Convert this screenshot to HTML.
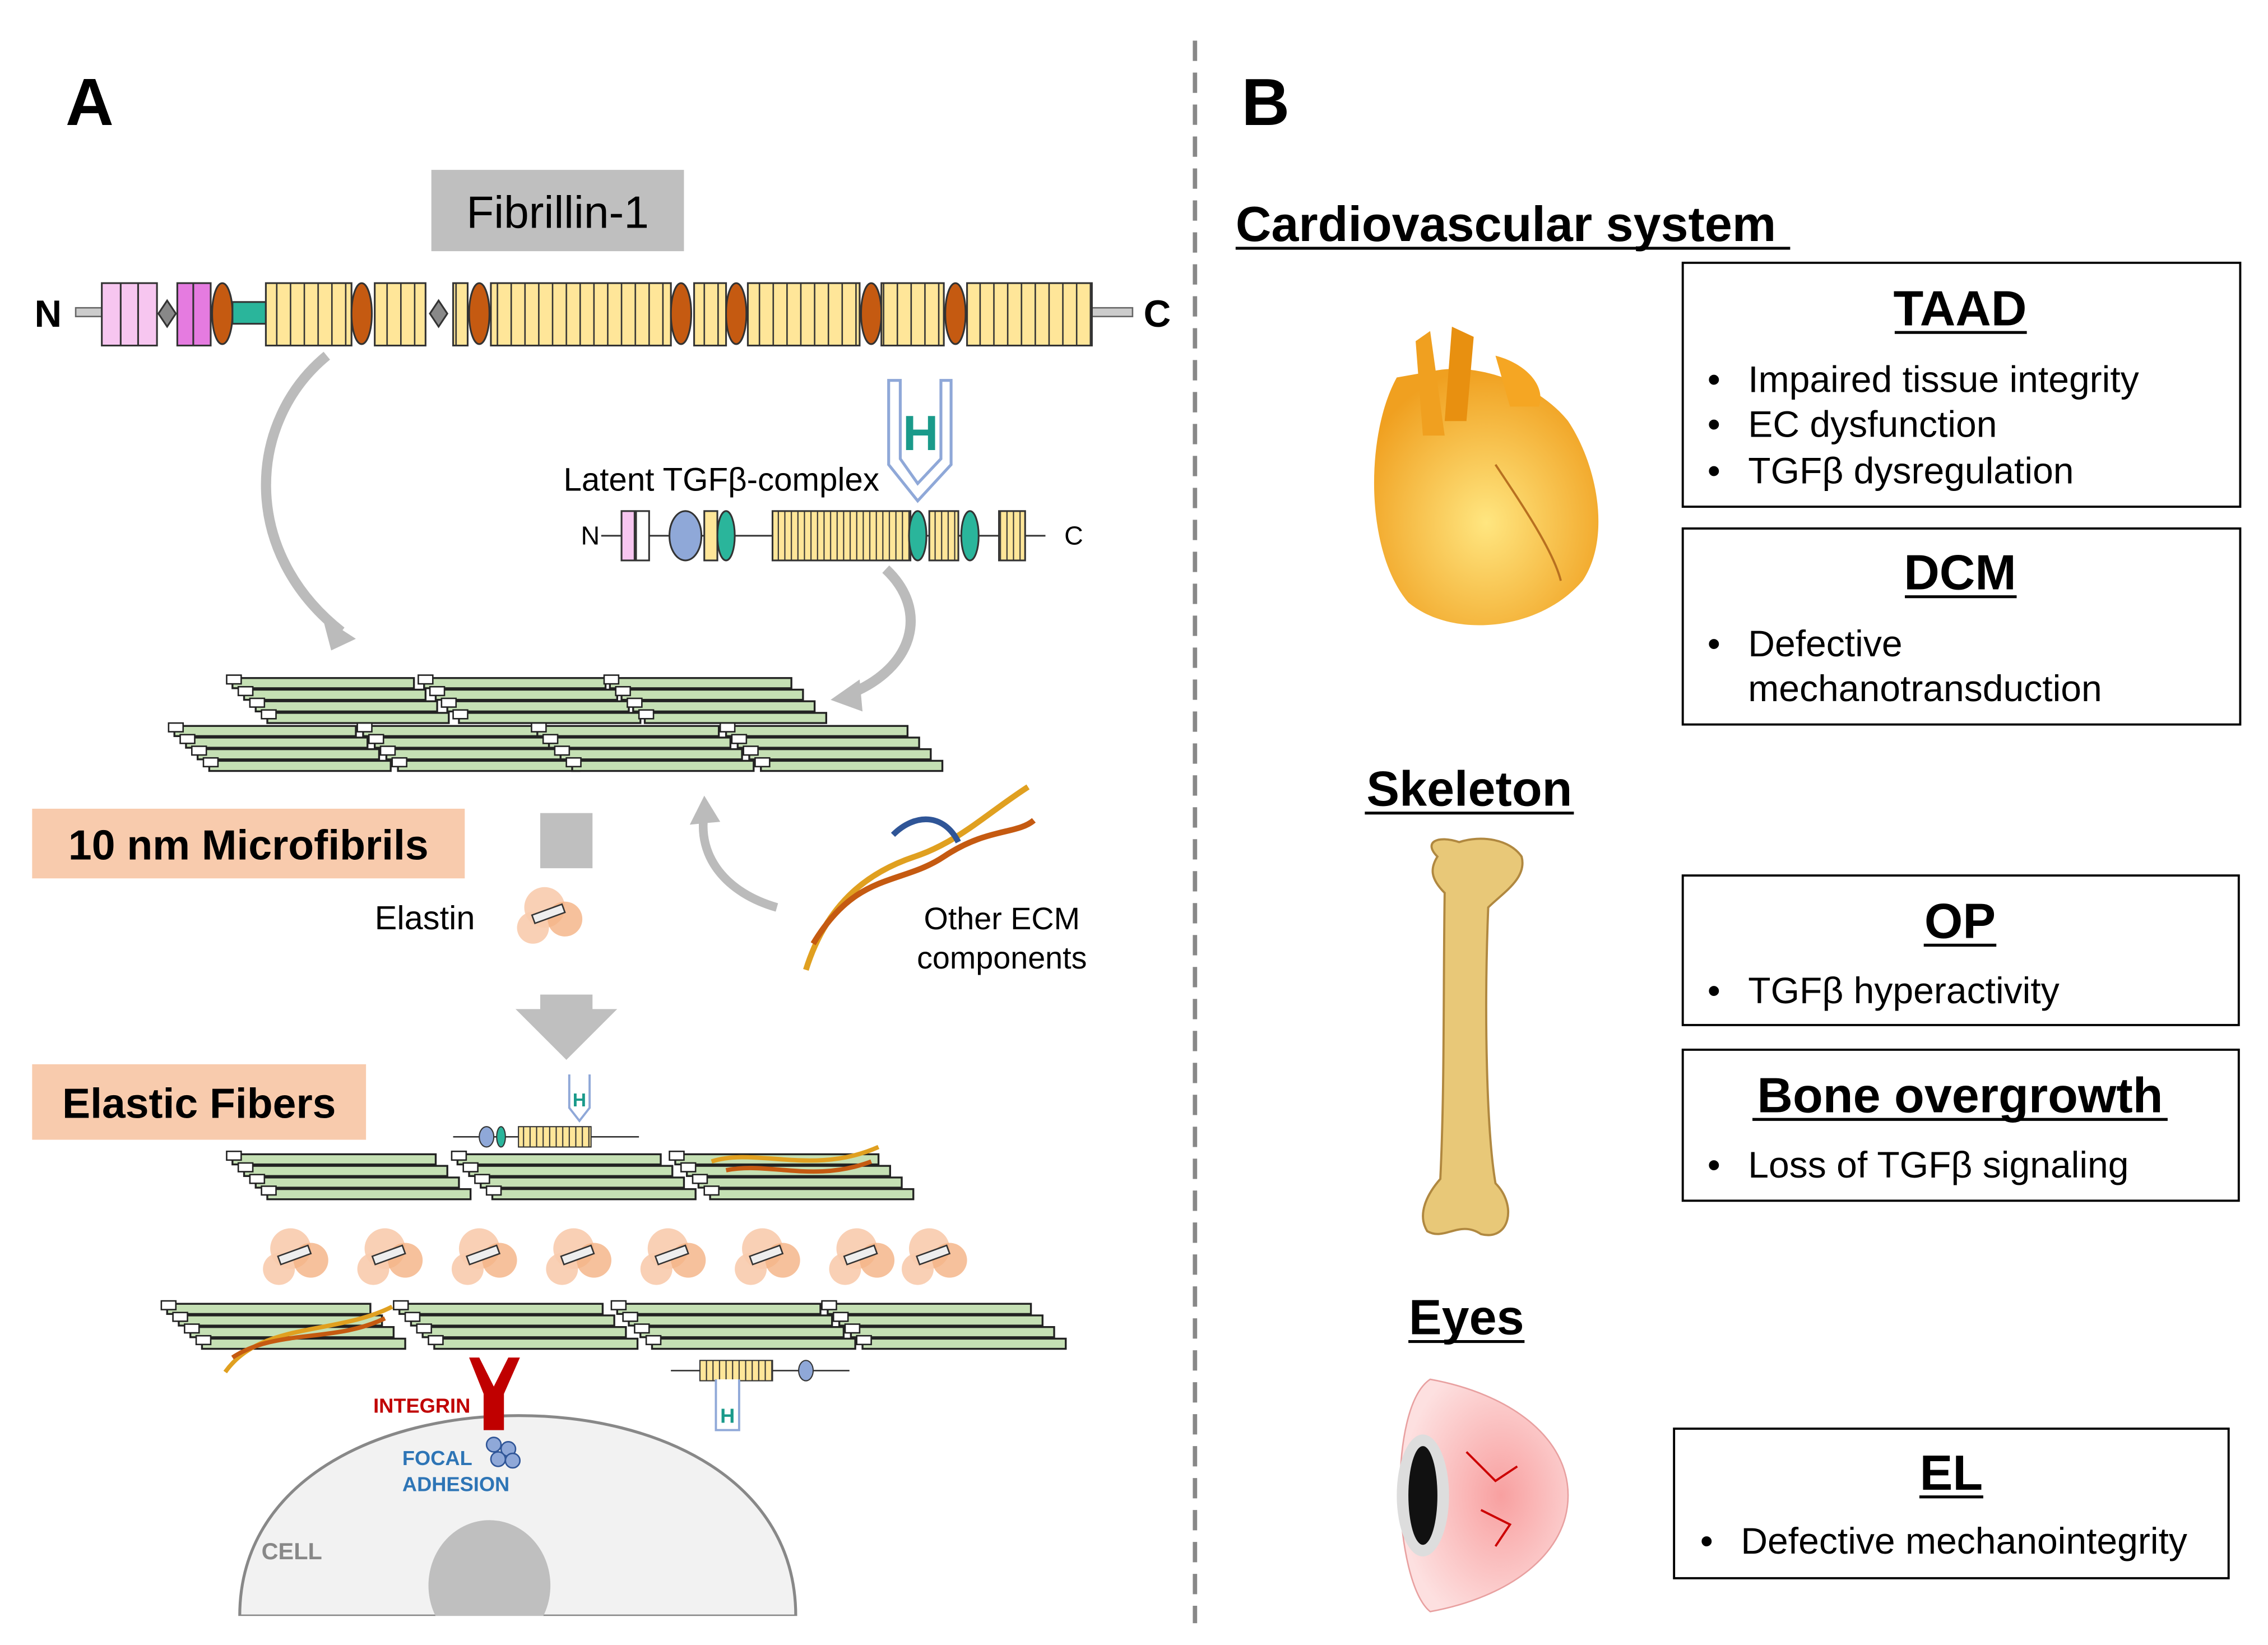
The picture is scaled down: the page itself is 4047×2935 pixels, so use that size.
<!DOCTYPE html>
<html><head><meta charset="utf-8"><style>html,body{margin:0;padding:0;background:#fff}svg{display:block}text{font-family:"Liberation Sans",sans-serif}</style></head><body>
<svg width="4047" height="2935" viewBox="0 0 1562 1133" xmlns="http://www.w3.org/2000/svg">
<defs>
<pattern id="ys" width="9.5" height="60" patternUnits="userSpaceOnUse"><rect width="9.5" height="60" fill="#ffe699"/><line x1="0.5" y1="0" x2="0.5" y2="60" stroke="#333" stroke-width="1"/></pattern>
<pattern id="ys2" width="4.5" height="60" patternUnits="userSpaceOnUse"><rect width="4.5" height="60" fill="#ffe699"/><line x1="0.5" y1="0" x2="0.5" y2="60" stroke="#333" stroke-width="0.8"/></pattern>
<radialGradient id="hg" cx="0.5" cy="0.6" r="0.6"><stop offset="0" stop-color="#ffe680"/><stop offset="1" stop-color="#f0a020"/></radialGradient>
<radialGradient id="eg" cx="0.6" cy="0.5" r="0.6"><stop offset="0" stop-color="#f8a0a0"/><stop offset="1" stop-color="#fde0e0"/></radialGradient>
<g id="fib"><rect x="0" y="0" width="125" height="7" fill="#c5e0b4" stroke="#222" stroke-width="1.3"/></g>
<g id="fib2"><rect x="0" y="0" width="140" height="7" fill="#c5e0b4" stroke="#222" stroke-width="1.3"/></g>
<g id="stack">
<use href="#fib" x="0" y="0"/><use href="#fib" x="8" y="8"/><use href="#fib" x="16" y="16"/><use href="#fib" x="24" y="24"/>
<rect x="-4" y="-2" width="10" height="6" fill="#fff" stroke="#222"/><rect x="4" y="6" width="10" height="6" fill="#fff" stroke="#222"/><rect x="12" y="14" width="10" height="6" fill="#fff" stroke="#222"/><rect x="20" y="22" width="10" height="6" fill="#fff" stroke="#222"/>
</g>
<g id="stack2">
<use href="#fib2" x="0" y="0"/><use href="#fib2" x="8" y="8"/><use href="#fib2" x="16" y="16"/><use href="#fib2" x="24" y="24"/>
<rect x="-4" y="-2" width="10" height="6" fill="#fff" stroke="#222"/><rect x="4" y="6" width="10" height="6" fill="#fff" stroke="#222"/><rect x="12" y="14" width="10" height="6" fill="#fff" stroke="#222"/><rect x="20" y="22" width="10" height="6" fill="#fff" stroke="#222"/>
</g>
<g id="blob"><circle cx="0" cy="0" r="14" fill="#f8cbad" opacity="0.9"/><circle cx="14" cy="8" r="12" fill="#f4b183" opacity="0.8"/><circle cx="-8" cy="14" r="11" fill="#f8cbad" opacity="0.9"/><rect x="-10" y="2" width="22" height="6" fill="#eee" stroke="#333" transform="rotate(-20)"/></g>
</defs>

<line x1="823" y1="28" x2="823" y2="1118" stroke="#888" stroke-width="3" stroke-dasharray="14,8"/>

<text x="45" y="86" font-size="46" font-weight="bold">A</text>
<text x="855" y="86" font-size="46" font-weight="bold">B</text>

<rect x="297" y="117" width="174" height="56" fill="#bfbfbf"/>
<text x="384" y="157" font-size="31" text-anchor="middle">Fibrillin-1</text>
<text x="33" y="225" font-size="26" font-weight="bold" text-anchor="middle">N</text>
<text x="797" y="225" font-size="26" font-weight="bold" text-anchor="middle">C</text>
<rect x="52" y="212" width="18" height="6" fill="#ccc" stroke="#666"/>
<rect x="752" y="212" width="28" height="6" fill="#ccc" stroke="#666"/>
<g stroke="#333" stroke-width="1.2">
<rect x="70" y="195" width="38" height="43" fill="#f7c6f0"/><line x1="83" y1="195" x2="83" y2="238"/><line x1="95" y1="195" x2="95" y2="238"/>
<polygon points="115,207 121,216 115,225 109,216" fill="#888"/>
<rect x="122" y="195" width="23" height="43" fill="#e57be0"/><line x1="133" y1="195" x2="133" y2="238"/>
<ellipse cx="153" cy="216" rx="7" ry="21" fill="#c55a11"/>
<rect x="160" y="208" width="23" height="15" fill="#2ab59b"/>
<rect x="183" y="195" width="59" height="43" fill="url(#ys)"/>
<ellipse cx="249" cy="216" rx="7" ry="21" fill="#c55a11"/>
<rect x="258" y="195" width="35" height="43" fill="url(#ys)"/>
<polygon points="302,207 308,216 302,225 296,216" fill="#888"/>
<rect x="312" y="195" width="10" height="43" fill="url(#ys)"/>
<ellipse cx="330" cy="216" rx="7" ry="21" fill="#c55a11"/>
<rect x="338" y="195" width="124" height="43" fill="url(#ys)"/>
<ellipse cx="469" cy="216" rx="7" ry="21" fill="#c55a11"/>
<rect x="478" y="195" width="22" height="43" fill="url(#ys)"/>
<ellipse cx="507" cy="216" rx="7" ry="21" fill="#c55a11"/>
<rect x="515" y="195" width="77" height="43" fill="url(#ys)"/>
<ellipse cx="600" cy="216" rx="7" ry="21" fill="#c55a11"/>
<rect x="607" y="195" width="43" height="43" fill="url(#ys)"/>
<ellipse cx="658" cy="216" rx="7" ry="21" fill="#c55a11"/>
<rect x="666" y="195" width="86" height="43" fill="url(#ys)"/>
</g>

<path d="M225,245 C170,290 165,380 235,435" fill="none" stroke="#bbb" stroke-width="7"/>
<polygon points="245,440 222,425 228,448" fill="#bbb"/>
<path d="M610,392 C640,420 630,460 585,478" fill="none" stroke="#bbb" stroke-width="7"/>
<polygon points="572,482 592,468 594,490" fill="#bbb"/>
<path d="M535,625 C500,615 480,590 485,560" fill="none" stroke="#bbb" stroke-width="6"/>
<polygon points="485,548 475,568 496,566" fill="#bbb"/>

<text x="388" y="338" font-size="22.5">Latent TGFβ-complex</text>
<path d="M612,262 L612,320 L632,345 L655,320 L655,262 L648,262 L648,316 L632,333 L620,316 L620,262 Z" fill="#fff" stroke="#8fa8d8" stroke-width="2"/>
<text x="634" y="310" font-size="34" font-weight="bold" fill="#1a9a8a" text-anchor="middle">H</text>
<text x="400" y="375" font-size="18">N</text><text x="733" y="375" font-size="18">C</text>
<g stroke="#333" stroke-width="1.2">
<line x1="414" y1="369" x2="720" y2="369" stroke="#333"/>
<rect x="428" y="352" width="9" height="34" fill="#f7c6f0"/><rect x="438" y="352" width="9" height="34" fill="#fff"/>
<ellipse cx="472" cy="369" rx="11" ry="17" fill="#8fa8d8"/>
<rect x="485" y="352" width="9" height="34" fill="#ffe699"/>
<ellipse cx="500" cy="369" rx="6" ry="17" fill="#2ab59b"/>
<rect x="532" y="352" width="95" height="34" fill="url(#ys2)"/>
<ellipse cx="632" cy="369" rx="6" ry="17" fill="#2ab59b"/>
<rect x="640" y="352" width="20" height="34" fill="url(#ys2)"/>
<ellipse cx="668" cy="369" rx="6" ry="17" fill="#2ab59b"/>
<rect x="688" y="352" width="18" height="34" fill="url(#ys2)"/>
</g>

<g transform="translate(160,467)"><use href="#stack"/></g>
<g transform="translate(292,467)"><use href="#stack"/></g>
<g transform="translate(420,467)"><use href="#stack"/></g>
<g transform="translate(120,500)"><use href="#stack"/></g>
<g transform="translate(250,500)"><use href="#stack"/></g>
<g transform="translate(370,500)"><use href="#stack"/></g>
<g transform="translate(500,500)"><use href="#stack"/></g>

<rect x="22" y="557" width="298" height="48" fill="#f8cbad"/>
<text x="171" y="592" font-size="29" font-weight="bold" text-anchor="middle">10 nm Microfibrils</text>
<rect x="372" y="560" width="36" height="38" fill="#bfbfbf"/>
<text x="258" y="640" font-size="23">Elastin</text>
<g transform="translate(375,625)"><use href="#blob"/></g>
<path d="M555,668 C570,620 600,600 630,590 C660,580 680,560 708,542" fill="none" stroke="#e0a020" stroke-width="4"/>
<path d="M560,650 C590,600 620,610 650,590 C680,570 700,575 712,565" fill="none" stroke="#c55a11" stroke-width="4"/>
<path d="M615,575 C630,560 650,560 660,580" fill="none" stroke="#2f5597" stroke-width="4"/>
<text x="690" y="640" font-size="21.5" text-anchor="middle">Other ECM</text>
<text x="690" y="667" font-size="21.5" text-anchor="middle">components</text>
<polygon points="372,685 408,685 408,695 425,695 390,730 355,695 372,695" fill="#bfbfbf"/>

<rect x="22" y="733" width="230" height="52" fill="#f8cbad"/>
<text x="137" y="770" font-size="29" font-weight="bold" text-anchor="middle">Elastic Fibers</text>

<path d="M392,740 L392,763 L399,772 L406,763 L406,740" fill="#fff" stroke="#8fa8d8" stroke-width="1.5"/>
<text x="399" y="762" font-size="13" font-weight="bold" fill="#1a9a8a" text-anchor="middle">H</text>
<line x1="312" y1="783" x2="440" y2="783" stroke="#333"/>
<rect x="357" y="776" width="50" height="14" fill="url(#ys2)" stroke="#333" stroke-width="0.8"/>
<ellipse cx="335" cy="783" rx="5" ry="7" fill="#8fa8d8" stroke="#333" stroke-width="0.8"/>
<ellipse cx="345" cy="783" rx="3" ry="7" fill="#2ab59b" stroke="#333" stroke-width="0.8"/>

<g transform="translate(160,795)"><use href="#stack2"/></g>
<g transform="translate(315,795)"><use href="#stack2"/></g>
<g transform="translate(465,795)"><use href="#stack2"/></g>
<path d="M490,800 C520,790 560,810 605,790" fill="none" stroke="#e0a020" stroke-width="3"/>
<path d="M500,806 C530,800 560,815 600,800" fill="none" stroke="#c55a11" stroke-width="3"/>
<g transform="translate(200,860)"><use href="#blob"/></g>
<g transform="translate(265,860)"><use href="#blob"/></g>
<g transform="translate(330,860)"><use href="#blob"/></g>
<g transform="translate(395,860)"><use href="#blob"/></g>
<g transform="translate(460,860)"><use href="#blob"/></g>
<g transform="translate(525,860)"><use href="#blob"/></g>
<g transform="translate(590,860)"><use href="#blob"/></g>
<g transform="translate(640,860)"><use href="#blob"/></g>
<g transform="translate(115,898)"><use href="#stack2"/></g>
<g transform="translate(275,898)"><use href="#stack2"/></g>
<g transform="translate(425,898)"><use href="#stack2"/></g>
<g transform="translate(570,898)"><use href="#stack2"/></g>
<path d="M155,945 C180,910 230,920 270,900" fill="none" stroke="#e0a020" stroke-width="3"/>
<path d="M160,935 C190,915 230,925 265,908" fill="none" stroke="#c55a11" stroke-width="3"/>
<line x1="462" y1="944" x2="585" y2="944" stroke="#333"/>
<rect x="482" y="937" width="50" height="14" fill="url(#ys2)" stroke="#333" stroke-width="0.8"/>
<ellipse cx="555" cy="944" rx="5" ry="7" fill="#8fa8d8" stroke="#333" stroke-width="0.8"/>
<path d="M493,950 L493,985 L509,985 L509,950" fill="#fff" stroke="#8fa8d8" stroke-width="1.5"/>
<text x="501" y="980" font-size="14" font-weight="bold" fill="#1a9a8a" text-anchor="middle">H</text>

<path d="M165,1113 C165,1020 260,975 357,975 C455,975 548,1020 548,1113 Z" fill="#f2f2f2" stroke="#888" stroke-width="2"/>
<ellipse cx="337" cy="1092" rx="42" ry="45" fill="#bfbfbf"/>
<rect x="0" y="1113" width="800" height="30" fill="#fff"/>
<text x="180" y="1074" font-size="16" font-weight="bold" fill="#888">CELL</text>
<path d="M323,935 L333,960 L333,985 L347,985 L347,960 L358,935 L350,935 L340,955 L330,935 Z" fill="#c00000"/>
<text x="257" y="973" font-size="14" font-weight="bold" fill="#c00000">INTEGRIN</text>
<g fill="#8fa8d8" stroke="#2f5597"><circle cx="340" cy="995" r="5"/><circle cx="350" cy="998" r="5"/><circle cx="343" cy="1005" r="5"/><circle cx="353" cy="1006" r="5"/></g>
<text x="277" y="1009" font-size="14" font-weight="bold" fill="#2e75b6">FOCAL</text>
<text x="277" y="1027" font-size="14" font-weight="bold" fill="#2e75b6">ADHESION</text>

<text x="851" y="166" font-size="34" font-weight="bold">Cardiovascular system</text>
<line x1="851" y1="171" x2="1233" y2="171" stroke="#000" stroke-width="2"/>

<path d="M962,260 C940,300 940,380 970,415 C1000,440 1060,435 1090,400 C1110,370 1100,320 1080,290 C1060,265 1020,250 990,255 Z" fill="url(#hg)"/>
<path d="M975,235 L985,228 L995,300 L980,300 Z" fill="#f0a020"/><path d="M1000,225 L1015,232 L1010,290 L995,290 Z" fill="#e89010"/>
<path d="M1030,245 C1050,250 1065,265 1060,280 L1040,280 Z" fill="#f5a623"/>
<path d="M1030,320 C1050,350 1070,380 1075,400" fill="none" stroke="#b87020" stroke-width="1.5"/>

<rect x="1159" y="181" width="384" height="168" fill="#fff" stroke="#000" stroke-width="1.5"/>
<text x="1350" y="224" font-size="34" font-weight="bold" text-anchor="middle">TAAD</text>
<line x1="1305" y1="229" x2="1396" y2="229" stroke="#000" stroke-width="2"/>
<g font-size="25.5"><text x="1176" y="270">•</text><text x="1204" y="270">Impaired tissue integrity</text>
<text x="1176" y="301">•</text><text x="1204" y="301">EC dysfunction</text>
<text x="1176" y="333">•</text><text x="1204" y="333">TGFβ dysregulation</text></g>

<rect x="1159" y="364" width="384" height="135" fill="#fff" stroke="#000" stroke-width="1.5"/>
<text x="1350" y="406" font-size="34" font-weight="bold" text-anchor="middle">DCM</text>
<line x1="1312" y1="411" x2="1389" y2="411" stroke="#000" stroke-width="2"/>
<g font-size="25.5"><text x="1176" y="452">•</text><text x="1204" y="452">Defective</text><text x="1204" y="483">mechanotransduction</text></g>

<text x="1012" y="555" font-size="34" font-weight="bold" text-anchor="middle">Skeleton</text>
<line x1="940" y1="560" x2="1084" y2="560" stroke="#000" stroke-width="2"/>
<path d="M990,590 C980,580 990,575 1005,580 C1020,575 1040,578 1048,590 C1052,605 1035,615 1025,625 C1022,700 1024,780 1030,815 C1045,830 1040,855 1020,850 C1005,840 995,855 983,848 C975,835 985,820 992,812 C995,750 994,680 995,615 C985,605 985,598 990,590 Z" fill="#e8c878" stroke="#b08840" stroke-width="1.5"/>

<rect x="1159" y="603" width="383" height="103" fill="#fff" stroke="#000" stroke-width="1.5"/>
<text x="1350" y="646" font-size="34" font-weight="bold" text-anchor="middle">OP</text>
<line x1="1325" y1="651" x2="1375" y2="651" stroke="#000" stroke-width="2"/>
<g font-size="25.5"><text x="1176" y="691">•</text><text x="1204" y="691">TGFβ hyperactivity</text></g>

<rect x="1159" y="723" width="383" height="104" fill="#fff" stroke="#000" stroke-width="1.5"/>
<text x="1350" y="766" font-size="34" font-weight="bold" text-anchor="middle">Bone overgrowth</text>
<line x1="1207" y1="771" x2="1493" y2="771" stroke="#000" stroke-width="2"/>
<g font-size="25.5"><text x="1176" y="811">•</text><text x="1204" y="811">Loss of TGFβ signaling</text></g>

<text x="1010" y="919" font-size="34" font-weight="bold" text-anchor="middle">Eyes</text>
<line x1="970" y1="924" x2="1050" y2="924" stroke="#000" stroke-width="2"/>
<path d="M985,950 C1040,960 1080,990 1080,1030 C1080,1070 1040,1100 985,1110 C960,1090 955,970 985,950 Z" fill="url(#eg)" stroke="#e8a0a0"/>
<ellipse cx="980" cy="1030" rx="18" ry="42" fill="#ddd"/>
<ellipse cx="980" cy="1030" rx="10" ry="34" fill="#111"/>
<path d="M1010,1000 L1030,1020 L1045,1010 M1020,1040 L1040,1050 L1030,1065" fill="none" stroke="#c00" stroke-width="1.5"/>

<rect x="1153" y="984" width="382" height="103" fill="#fff" stroke="#000" stroke-width="1.5"/>
<text x="1344" y="1026" font-size="34" font-weight="bold" text-anchor="middle">EL</text>
<line x1="1322" y1="1031" x2="1366" y2="1031" stroke="#000" stroke-width="2"/>
<g font-size="25.5"><text x="1171" y="1070">•</text><text x="1199" y="1070">Defective mechanointegrity</text></g>
</svg>
</body></html>
